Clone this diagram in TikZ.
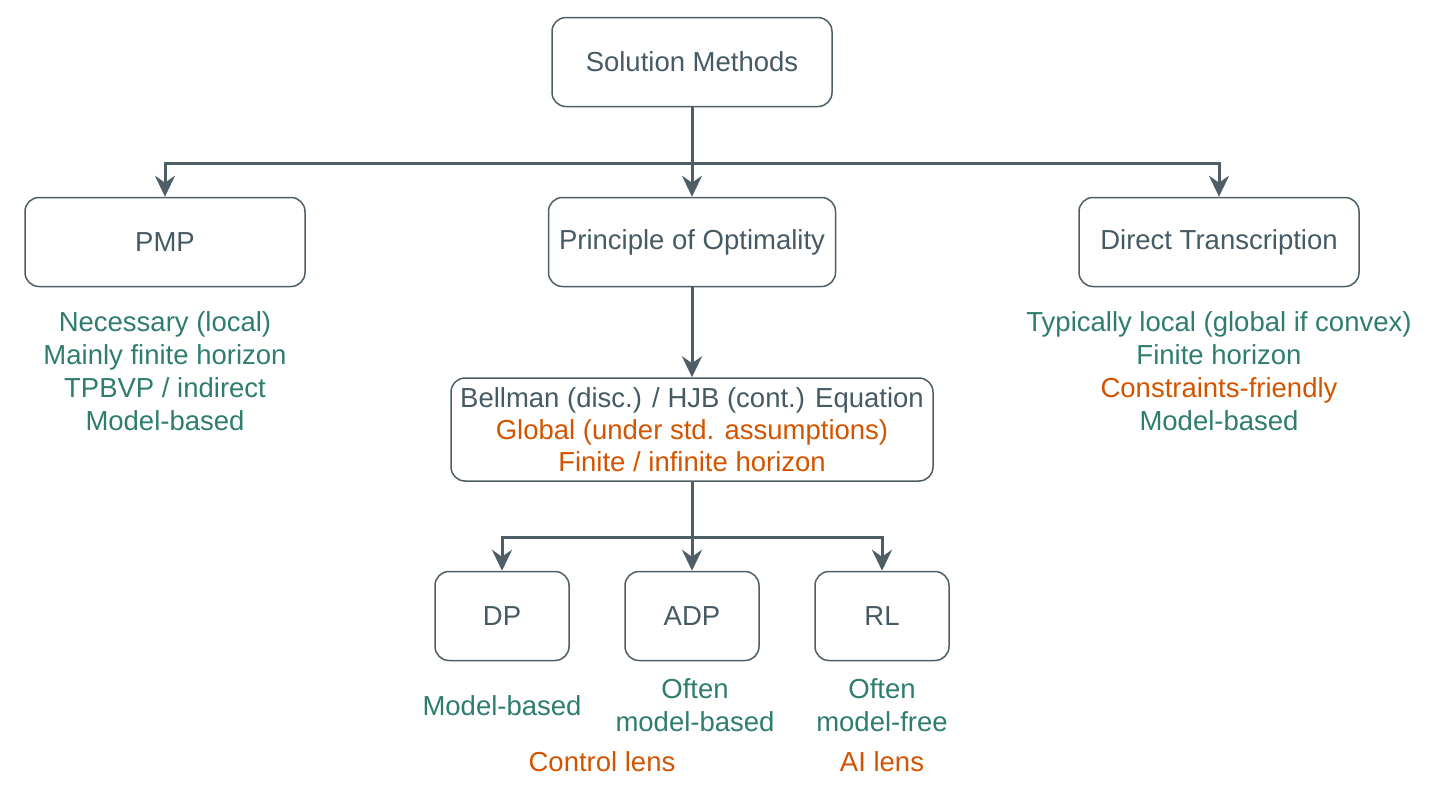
\documentclass[tikz,border=0pt]{standalone}
\usepackage{fontspec}
\setmainfont{Liberation Sans}
\usetikzlibrary{arrows.meta,positioning}
\definecolor{ink}{HTML}{455A64}
\definecolor{wire}{HTML}{4F5D66}
\definecolor{notegreen}{HTML}{2E7D6F}
\definecolor{noteorange}{HTML}{D35400}

\begin{document}
\begin{tikzpicture}[x=1pt,y=-1pt,
    box/.style={draw=wire, line width=1.5pt, rounded corners=14pt, text=ink, align=center,
        minimum width=280pt, minimum height=89pt, font=\fontsize{27.5}{32}\selectfont},
    smallbox/.style={box, minimum width=134pt},
    note/.style={text=notegreen, align=center, font=\fontsize{27.5}{33}\selectfont},
    lens/.style={note, text=noteorange},
    arr/.style={draw=wire, line width=3pt, -{Stealth[length=21pt,width=20pt,inset=7pt]}}]
    \useasboundingbox (0,0) rectangle (1435,801);

    \node[box] (sol) at (692,62) {Solution Methods};
    \node[box] (pmp) at (165,242) {PMP};
    \node[box, minimum width=287pt] (poo) at (692,242) {Principle of Optimality};
    \node[box] (dt) at (1219,242) {Direct Transcription};
    \node[box, minimum width=482pt, minimum height=103pt] (bell) at (692,429.5)
        {Bellman (disc.) / HJB (cont.) Equation\\
         \textcolor{noteorange}{Global (under std. assumptions)}\\
         \textcolor{noteorange}{Finite / infinite horizon}};
    \node[smallbox] (dp) at (502,616) {DP};
    \node[smallbox] (adp) at (692,616) {ADP};
    \node[smallbox] (rl) at (882,616) {RL};

    \node[note] (pmpnote) at (165,371.5) {Necessary (local)\\Mainly finite horizon\\TPBVP / indirect\\Model-based};
    \node[note] (dtnote) at (1219,371.5) {Typically local (global if convex)\\Finite horizon\\
        \textcolor{noteorange}{Constraints-friendly}\\Model-based};
    \node[note] (dpnote) at (502,706) {Model-based};
    \node[note] (adpnote) at (695,705.5) {Often\\model-based};
    \node[note] (rlnote) at (882,705.5) {Often\\model-free};
    \node[lens] (ctrl) at (602,762) {Control lens};
    \node[lens] (ai) at (882,762) {AI lens};

    \coordinate (bus1) at (692,163);
    \coordinate (bus2) at (692,537);
    \draw[arr] (sol.south) -- (bus1) -| (pmp.north);
    \draw[arr] (sol.south) -- (poo.north);
    \draw[arr] (bus1) -| (dt.north);
    \draw[arr] (poo.south) -- (bell.north);
    \draw[arr] (bell.south) -- (bus2) -| (dp.north);
    \draw[arr] (bell.south) -- (adp.north);
    \draw[arr] (bus2) -| (rl.north);
\end{tikzpicture}
\end{document}
